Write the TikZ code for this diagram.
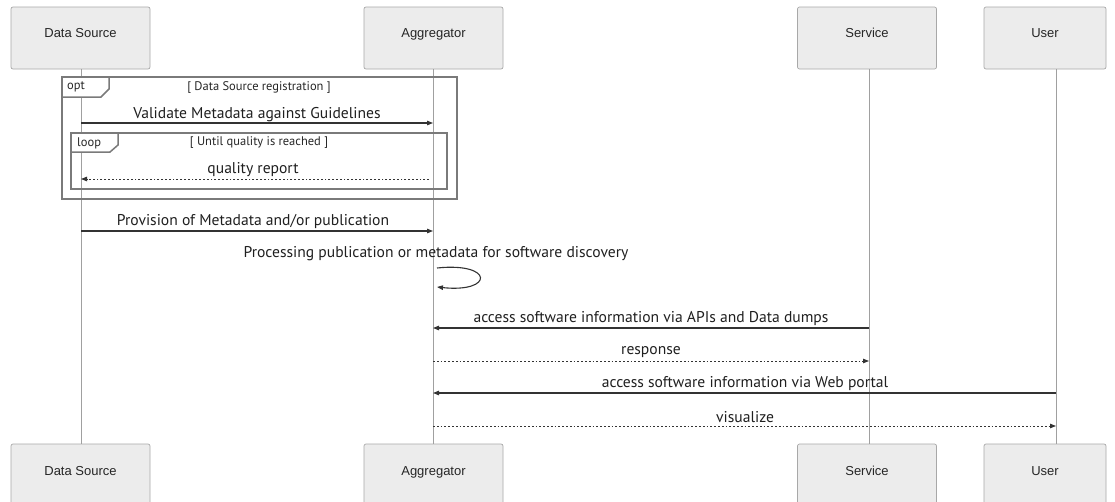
\documentclass[tikz,border=0pt]{standalone}
\usepackage{fontspec}
\setmainfont{Liberation Sans}
\newfontfamily\msgfont{PT Sans}
\usetikzlibrary{arrows.meta}
\definecolor{boxfill}{HTML}{ECECEC}
\definecolor{boxdraw}{HTML}{A8A8A8}
\definecolor{lifec}{HTML}{A0A0A0}
\definecolor{msgc}{HTML}{333333}
\definecolor{framec}{HTML}{7A7A7A}
\tikzset{
  x=1pt, y=-1pt,
  actor/.style={draw=boxdraw, fill=boxfill, rounded corners=2pt, minimum width=139pt, minimum height=62pt, line width=0.7pt, inner sep=0pt},
  actortext/.style={font=\fontsize{13}{15}\selectfont, text=black!85, inner sep=0pt, text height=9.3pt, text depth=0pt, anchor=center},
  lifeline/.style={draw=lifec, line width=0.6pt},
  msg/.style={draw=msgc, line width=1.1pt, -{Triangle[length=6pt,width=4.5pt]}},
  reply/.style={msg, line width=0.9pt, dash pattern=on 1.8pt off 2pt},
  msglabel/.style={font=\msgfont\fontsize{15.6}{17}\selectfont, text=black!88, inner sep=0pt, yshift=-2pt},
  frame/.style={draw=framec, line width=1.5pt},
  framelabel/.style={font=\msgfont\fontsize{12.5}{14}\selectfont, text=black!85, inner sep=0pt},
}
\begin{document}
\begin{tikzpicture}
\useasboundingbox (0,0) rectangle (1115,501);
% actors top
\node[actor] (dsT) at (80.5,38) {};
\node[actor] (agT) at (433.5,38) {};
\node[actor] (svT) at (867,38) {};
\node[actor, minimum width=122pt] (usT) at (1045,38) {};
\node[actortext] (dsTt) at ([yshift=-26.5pt]dsT.north) {Data Source};
\node[actortext] (agTt) at ([yshift=-26.5pt]agT.north) {Aggregator};
\node[actortext] (svTt) at ([yshift=-26.5pt]svT.north) {Service};
\node[actortext] (usTt) at ([yshift=-26.5pt]usT.north) {User};
% actors bottom
\node[actor] (dsB) at (80.5,475) {};
\node[actor] (agB) at (433.5,475) {};
\node[actor] (svB) at (867,475) {};
\node[actor, minimum width=122pt] (usB) at (1045,475) {};
\node[actortext] (dsBt) at ([yshift=-27pt]dsB.north) {Data Source};
\node[actortext] (agBt) at ([yshift=-27pt]agB.north) {Aggregator};
\node[actortext] (svBt) at ([yshift=-27pt]svB.north) {Service};
\node[actortext] (usBt) at ([yshift=-27pt]usB.north) {User};
% lifelines
\coordinate (dsL) at (81,0);
\coordinate (agL) at (433,0);
\coordinate (svL) at (869,0);
\coordinate (usL) at (1056,0);
\draw[lifeline] (dsL|-dsT.south) -- (dsL|-dsB.north);
\draw[lifeline] (agL|-agT.south) -- (agL|-agB.north);
\draw[lifeline] (svL|-svT.south) -- (svL|-svB.north);
\draw[lifeline] (usL|-usT.south) -- (usL|-usB.north);
% opt frame
\draw[frame] (62,77) rectangle (457,199);
\draw[frame, fill=white] (62,77) -- (109,77) -- (109,89) -- (101,97) -- (62,97) -- cycle;
\node[framelabel, anchor=west] (optl) at (67,87) {opt};
\node[framelabel] (optc) at (259,87) {[ Data Source registration ]};
% message 1
\node[msglabel] (m1) at (257,113) {Validate Metadata against Guidelines};
\draw[msg] (dsL|-0,123) -- (agL|-0,123);
% loop frame
\draw[frame] (71,133) rectangle (447,189);
\draw[frame, fill=white] (71,133) -- (118,133) -- (118,145) -- (110,152) -- (71,152) -- cycle;
\node[framelabel, anchor=west] (loopl) at (77,143) {loop};
\node[framelabel] (loopc) at (259,143) {[ Until quality is reached ]};
% quality report
\node[msglabel] (m2) at (253,168) {quality report};
\draw[reply] (agL|-0,179) ++(-4,0) -- (dsL|-0,179);
% provision
\node[msglabel] (m3) at (253,220) {Provision of Metadata and/or publication};
\draw[msg] (dsL|-0,231) -- (agL|-0,231);
% processing
\node[msglabel] (m4) at (436,252) {Processing publication or metadata for software discovery};
\coordinate (sl1) at (437,268);
\coordinate (sl2) at (437,287);
\draw[msg] (sl1) .. controls (494,262) and (494,293) .. (sl2);
% access APIs
\node[msglabel] (m5) at (651,317) {access software information via APIs and Data dumps};
\draw[msg] (svL|-0,328) -- (agL|-0,328);
% response
\node[msglabel] (m6) at (651,350) {response};
\draw[reply] (agL|-0,361) -- (svL|-0,361);
% web portal
\node[msglabel] (m7) at (745,382) {access software information via Web portal};
\draw[msg] (usL|-0,393) -- (agL|-0,393);
% visualize
\node[msglabel] (m8) at (745,415) {visualize};
\draw[reply] (agL|-0,426) -- (usL|-0,426);
\end{tikzpicture}
\end{document}
